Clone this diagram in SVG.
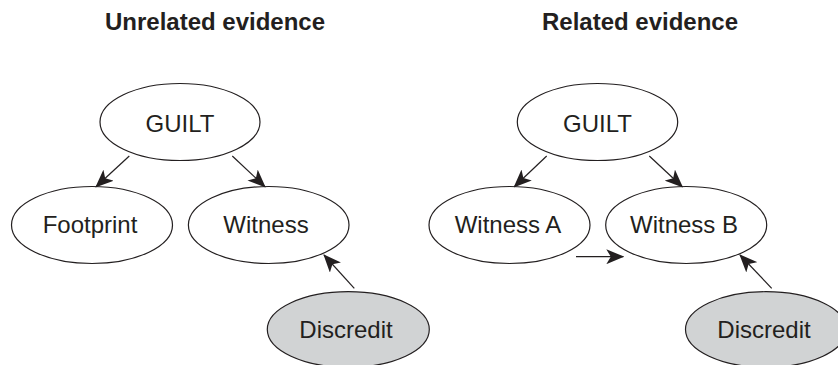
<svg xmlns="http://www.w3.org/2000/svg" width="838" height="365" viewBox="0 0 838 365">
  <style>
    .title { font-family: "Liberation Sans", Arial, sans-serif; font-weight: bold; font-size: 24px; fill: #231f20; text-anchor: middle; }
    .node ellipse { fill: #ffffff; stroke: #231f20; stroke-width: 1.2; }
    .node.grey ellipse { fill: #d1d3d4; }
    .node text { font-family: "Liberation Sans", Arial, sans-serif; font-size: 24px; fill: #231f20; text-anchor: middle; }
    .edges line { stroke: #231f20; stroke-width: 1.2; marker-end: url(#arrow); }
  </style>
  <defs>
    <marker id="arrow" markerUnits="userSpaceOnUse" viewBox="0 0 18 15" refX="17" refY="7.5" markerWidth="18" markerHeight="15" orient="auto">
      <path d="M0,0 L18,7.5 L0,15 L4.5,7.5 Z" fill="#231f20"/>
    </marker>
  </defs>
  <rect width="838" height="365" fill="#ffffff"/>

  <!-- Panel titles -->
  <text class="title" x="215" y="30">Unrelated evidence</text>
  <text class="title" x="640" y="30">Related evidence</text>

  <!-- Left panel -->
  <g id="guilt-left" class="node">
    <ellipse cx="180" cy="122" rx="80" ry="38.5"/>
    <text x="180" y="131.5">GUILT</text>
  </g>
  <g id="footprint" class="node">
    <ellipse cx="92" cy="225" rx="80.5" ry="38.5"/>
    <text x="90" y="233">Footprint</text>
  </g>
  <g id="witness" class="node">
    <ellipse cx="268.7" cy="225" rx="80.3" ry="38.5"/>
    <text x="266" y="233">Witness</text>
  </g>
  <g id="discredit-left" class="node grey">
    <ellipse cx="348.3" cy="329.5" rx="81" ry="37.8"/>
    <text x="346" y="338.3">Discredit</text>
  </g>

  <!-- Right panel -->
  <g id="guilt-right" class="node">
    <ellipse cx="597.5" cy="122" rx="80.2" ry="38.5"/>
    <text x="597.5" y="131.5">GUILT</text>
  </g>
  <g id="witness-a" class="node">
    <ellipse cx="509.5" cy="225" rx="80.5" ry="38.5"/>
    <text x="508" y="233">Witness A</text>
  </g>
  <g id="witness-b" class="node">
    <ellipse cx="686.2" cy="225" rx="80.5" ry="38.5"/>
    <text x="684" y="233">Witness B</text>
  </g>
  <g id="discredit-right" class="node grey">
    <ellipse cx="766" cy="329.5" rx="80.5" ry="37.8"/>
    <text x="764" y="338.3">Discredit</text>
  </g>

  <g id="connectors" class="edges">
    <line x1="129.3" y1="156" x2="96" y2="186.7"/>
    <line x1="232.3" y1="156" x2="265" y2="186.7"/>
    <line x1="354.3" y1="288.3" x2="324" y2="255"/>
    <line x1="546.7" y1="156" x2="514.3" y2="186.7"/>
    <line x1="649.3" y1="156" x2="682.3" y2="186.7"/>
    <line x1="576" y1="256.7" x2="623.3" y2="256.7"/>
    <line x1="771.7" y1="288.3" x2="740" y2="255"/>
  </g>
</svg>
